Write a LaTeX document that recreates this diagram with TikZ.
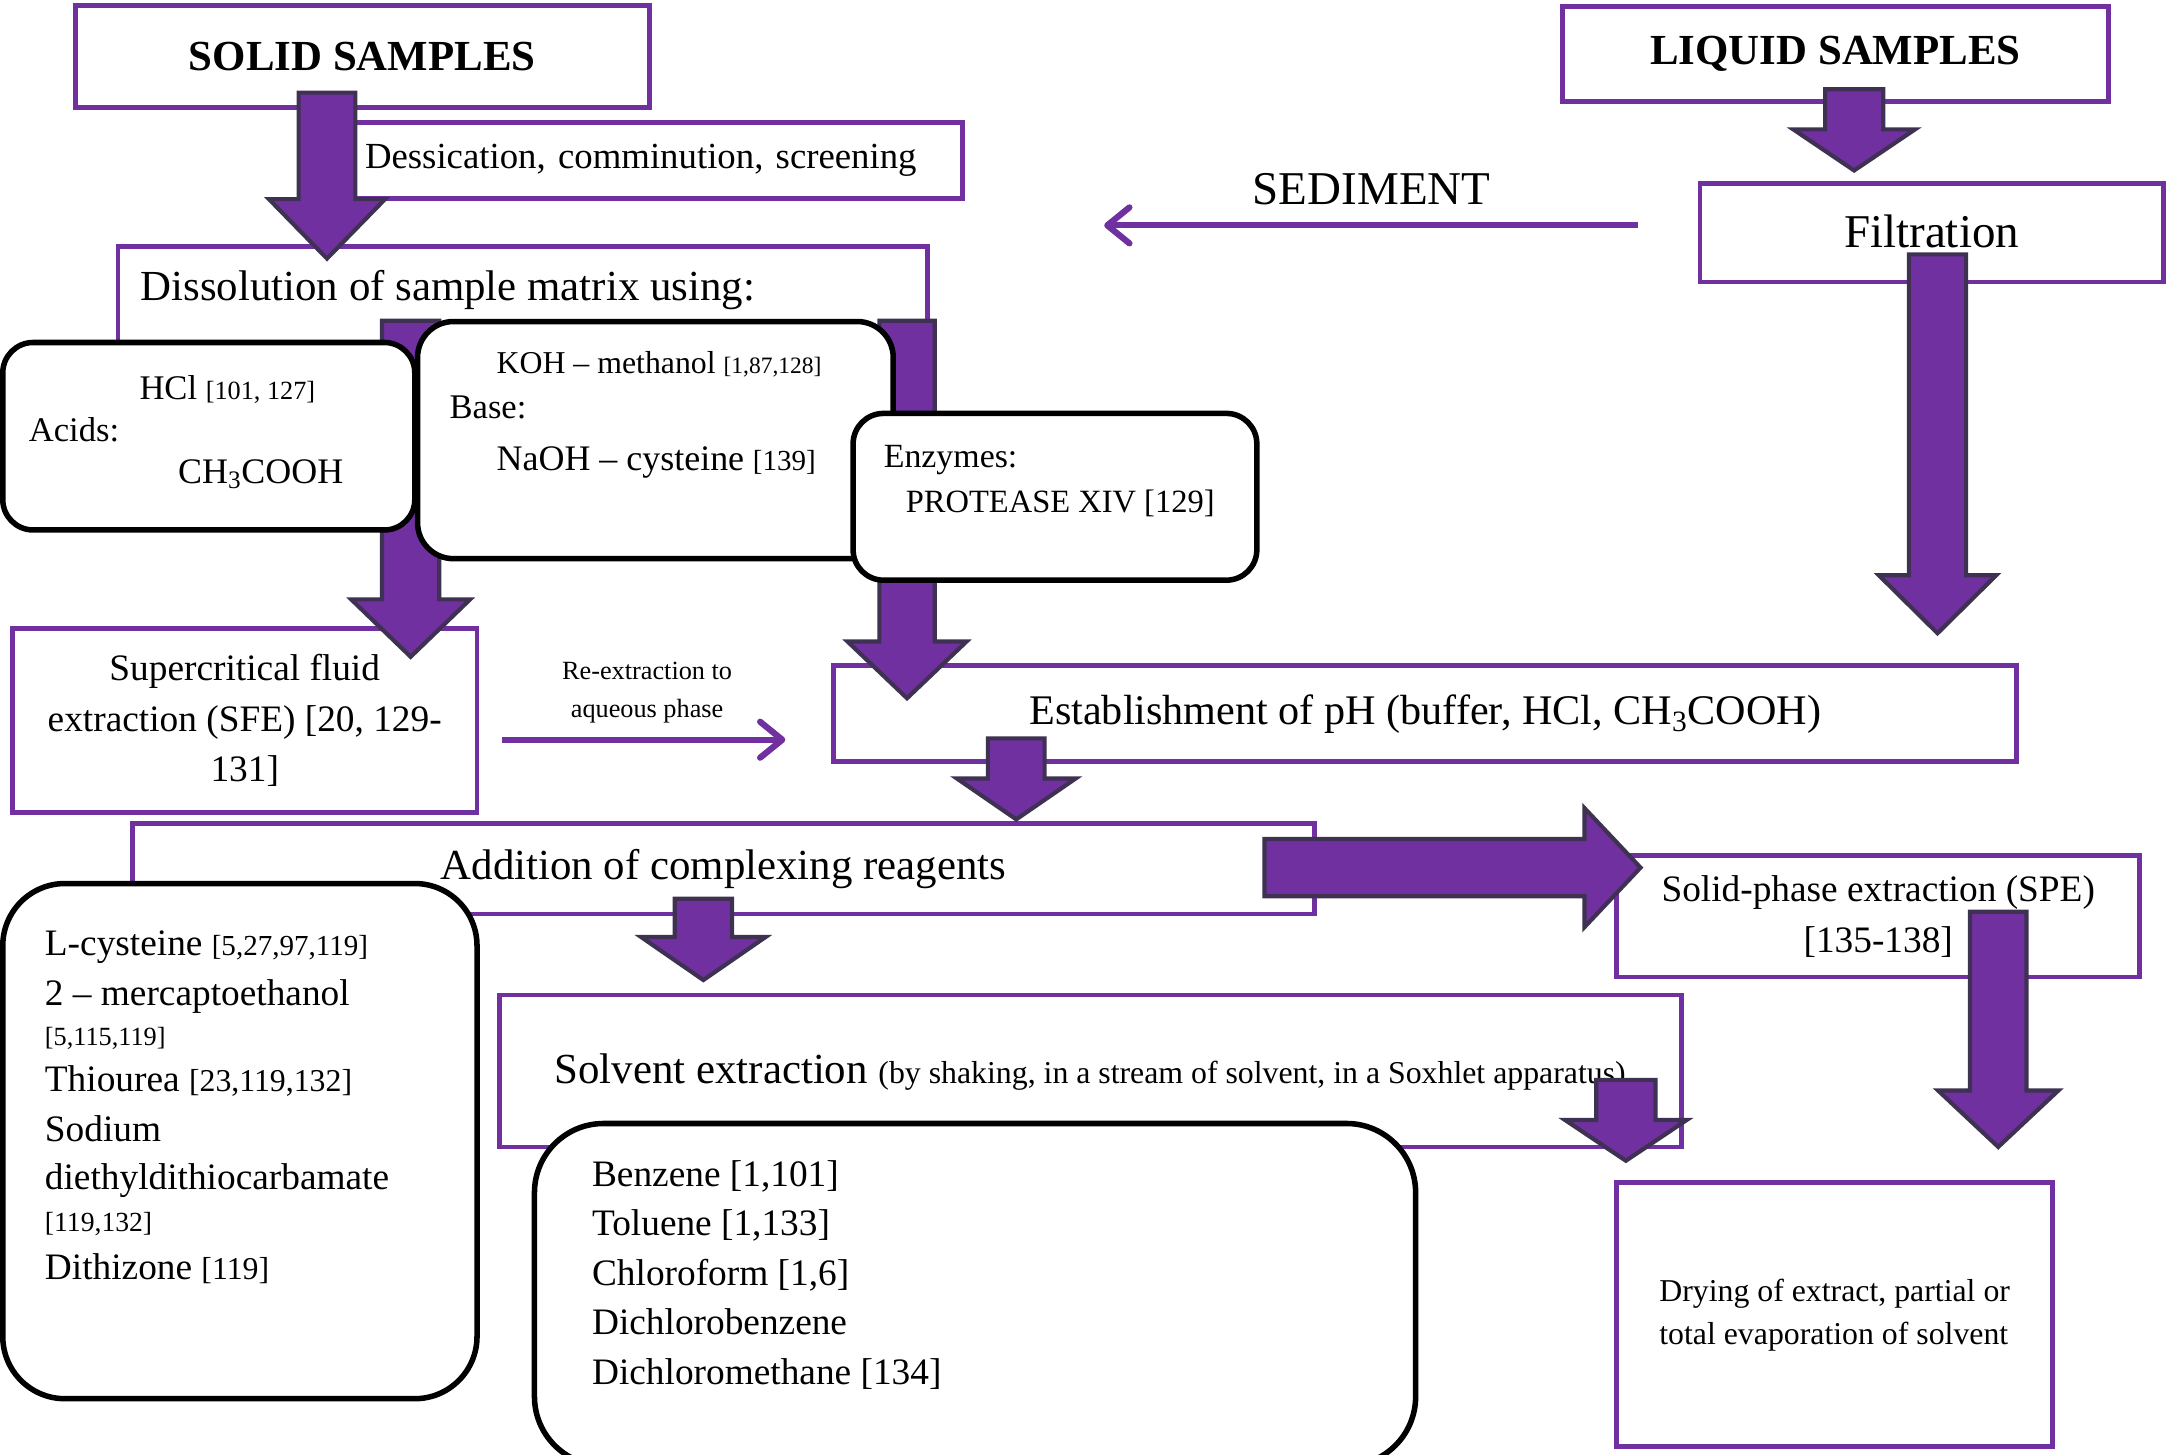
\documentclass[tikz,border=0pt]{standalone}
\usepackage{fontspec}
\setmainfont{Liberation Serif}
\usetikzlibrary{positioning,arrows.meta,calc}
\definecolor{vio}{HTML}{7030A0}
\definecolor{arrline}{HTML}{3F3151}
\newcommand{\fs}[2]{\fontsize{#1}{#2}\selectfont}
\newcommand{\rf}[2][21]{{\fontsize{#1}{#1}\selectfont #2}}

\begin{document}
\begin{tikzpicture}[x=1pt, y=-1pt,
    pbox/.style={draw=vio, line width=3.5pt, fill=white, inner sep=0pt},
    rbox/.style={draw=black, line width=4pt, fill=white, inner sep=0pt, rounded corners=#1},
    rbox/.default=24pt,
    txt/.style={inner sep=0pt, align=left},
    thinarr/.style={draw=vio, line width=4.5pt, -{Straight Barb[length=16pt,width=26pt,round]}},
    bshaft/.store in=\bshaft, bhead/.store in=\bhead, bhlen/.store in=\bhlen,
    block/.style={draw=arrline, fill=vio, line width=3pt, line join=miter,
      to path={let \p1=($(\tikztotarget)!\bhlen!(\tikztostart)$) in
        ($(\tikztostart)!\bshaft!90:(\tikztotarget)$)
        -- ($(\p1)!\bshaft!-90:(\tikztostart)$) -- ($(\p1)!\bhead!-90:(\tikztostart)$)
        -- (\tikztotarget)
        -- ($(\p1)!\bhead!90:(\tikztostart)$) -- ($(\p1)!\bshaft!90:(\tikztostart)$)
        -- ($(\tikztostart)!\bshaft!-90:(\tikztotarget)$) -- cycle}}]
  \useasboundingbox (0,0) rectangle (1568,1052);

  % purple boxes
  \node[pbox, minimum width=415, minimum height=74, font=\bfseries\fs{31}{31}] (solid) at (262,41) {\raisebox{1pt}{SOLID SAMPLES}};
  \node[pbox, minimum height=55, text width=424, inner xsep=8pt, align=left, font=\fs{26.6}{27}] (dess) at (476,116) {Dessication, comminution, screening};
  \node[pbox, minimum width=585.6, minimum height=151.5] (diss) at (378.2,254.3) {};
  \node[txt, anchor=west, font=\fs{31}{31}] (disst) at (101.5,210) {Dissolution of sample matrix using:};
  \node[pbox, minimum width=395, minimum height=69, font=\bfseries\fs{31}{31}] (liquid) at (1327.5,39.2) {LIQUID SAMPLES};
  \node[pbox, minimum width=335, minimum height=71, font=\fs{34}{34}] (filt) at (1397,168.5) {\raisebox{2.5pt}{Filtration}};
  \node[txt, font=\fs{34}{34}] (sed) at (992,137) {SEDIMENT};
  \node[pbox, minimum width=336, minimum height=133, align=center, font=\fs{27}{36.5}] (sfe) at (177,521) {Supercritical fluid\\extraction (SFE) [20, 129-\\131]};
  \node[txt, align=center, font=\fs{19}{27}] (ret) at (468,501) {Re-extraction to\\aqueous phase};
  \node[pbox, minimum width=855.6, minimum height=69.5, font=\fs{30.5}{30.5}] (ph) at (1030.8,516.2) {Establishment of pH (buffer, HCl, CH\textsubscript{3}COOH)};
  \node[pbox, minimum width=854.4, minimum height=65.4, font=\fs{31}{31}] (add) at (523.2,628.3) {Addition of complexing reagents};
  \node[pbox, minimum width=378, minimum height=87.6, align=center, font=\fs{27}{37}] (spe) at (1358.4,662.8) {Solid-phase extraction (SPE)\\{}[135-138]};
  \node[pbox, minimum width=855, minimum height=110] (solv) at (788.5,774.6) {};
  \node[txt, anchor=west, font=\fs{31}{31}] (solvt) at (401,775) {Solvent extraction \rf[23]{(by shaking, in a stream of solvent, in a Soxhlet apparatus)}};
  \node[pbox, minimum width=315, minimum height=191, align=left, font=\fs{23}{31}] (dry) at (1326.9,950.9) {Drying of extract, partial or\\total evaporation of solvent};

  % block arrows
  \coordinate (solidout) at (236.5,67);   \coordinate (dissin) at (236.5,187);
  \coordinate (liqout) at (1341,64.6);    \coordinate (filtin) at (1341,123.3);
  \coordinate (acidout) at (297,232);     \coordinate (sfein) at (297,475);
  \coordinate (enzout) at (656,232);      \coordinate (phin) at (656,505);
  \coordinate (filtout) at (1401.3,184);  \coordinate (phin2) at (1401.3,458);
  \coordinate (phout) at (735,534);       \coordinate (addin) at (735,592.6);
  \coordinate (addout) at (508.7,650);    \coordinate (solvin) at (508.7,708.8);
  \coordinate (solvout) at (1175.9,781);  \coordinate (dryin) at (1175.9,839.5);
  \coordinate (speout) at (1445.2,659.4); \coordinate (dryin2) at (1445.2,829.5);
  \coordinate (addright) at (914.5,627.5); \coordinate (spein) at (1186.5,627.5);

  \draw[block, bshaft=20.5pt, bhead=42pt, bhlen=43pt] (solidout) to (dissin);
  \draw[block, bshaft=21pt, bhead=44pt, bhlen=29.7pt] (liqout) to (filtin);
  \draw[block, bshaft=20.7pt, bhead=43pt, bhlen=41.5pt] (acidout) to (sfein);
  \draw[block, bshaft=20pt, bhead=43pt, bhlen=41pt] (enzout) to (phin);
  \draw[block, bshaft=20.7pt, bhead=42.5pt, bhlen=42pt] (filtout) to (phin2);
  \draw[block, bshaft=20.5pt, bhead=43pt, bhlen=29.6pt] (phout) to (addin);
  \draw[block, bshaft=20.7pt, bhead=45pt, bhlen=31.1pt] (addout) to (solvin);
  \draw[block, bshaft=21.4pt, bhead=44pt, bhlen=29.5pt] (solvout) to (dryin);
  \draw[block, bshaft=20.4pt, bhead=43.5pt, bhlen=40.8pt] (speout) to (dryin2);
  \draw[block, bshaft=20.75pt, bhead=43pt, bhlen=40.5pt] (addright) to (spein);

  % thin arrows
  \coordinate (sedtip) at (798.6,163);
  \coordinate (retip) at (568,535);
  \draw[thinarr] ([xshift=-43pt,yshift=5.5pt]filt.west) -- (sedtip);
  \draw[thinarr] ([xshift=16.5pt,yshift=-14pt]sfe.east) -- (retip);

  % black boxes
  \node[rbox=22pt, minimum width=298, minimum height=135.6] (acid) at (151,315.5) {};
  \node[txt, anchor=west, font=\fs{25}{30.5}] (acidt) at (20.7,312.5) {\hspace*{80pt}HCl \rf[19]{[101, 127]}\\Acids:\\\hspace*{108pt}{\fs{26}{30.5}CH\textsubscript{3}COOH}};
  \node[rbox=26pt, minimum width=344, minimum height=171.5] (base) at (474,318.3) {};
  \node[txt, anchor=west, font=\fs{25}{32}] (baset) at (325,300) {\hspace*{34pt}{\fs{23}{23}KOH – methanol \rf[17]{[1,87,128]}}\\Base:\\[5.5pt]\hspace*{34pt}{\fs{26}{32}NaOH – cysteine} \rf{[139]}};
  \node[rbox=22pt, minimum width=292, minimum height=120.6] (enz) at (763,359.3) {};
  \node[txt, anchor=west, font=\fs{23.5}{32.3}] (enzt) at (639,348) {\fs{24.5}{32.3}Enzymes:\\\hspace*{16pt}PROTEASE XIV [129]};
  \node[rbox=45pt, minimum width=343, minimum height=372.6] (compl) at (173.5,825.3) {};
  \node[txt, anchor=west, font=\fs{27}{35}] (complt) at (32.3,801) {L-cysteine \rf{[5,27,97,119]}\\[1pt]2 – mercaptoethanol\\[-6pt]\rf[19]{[5,115,119]}\\[-2pt]Thiourea \rf[23]{[23,119,132]}\\[1pt]Sodium\\diethyldithiocarbamate\\[-4.5pt]\rf[20]{[119,132]}\\[-0.5pt]Dithizone \rf[23]{[119]}};
  \node[rbox=50pt, minimum width=637.3, minimum height=247.5] (solvs) at (705.2,936.3) {};
  \node[txt, anchor=west, font=\fs{27}{35.8}] (solvst) at (428,922) {Benzene [1,101]\\Toluene [1,133]\\Chloroform [1,6]\\Dichlorobenzene\\Dichloromethane [134]};
\end{tikzpicture}
\end{document}
